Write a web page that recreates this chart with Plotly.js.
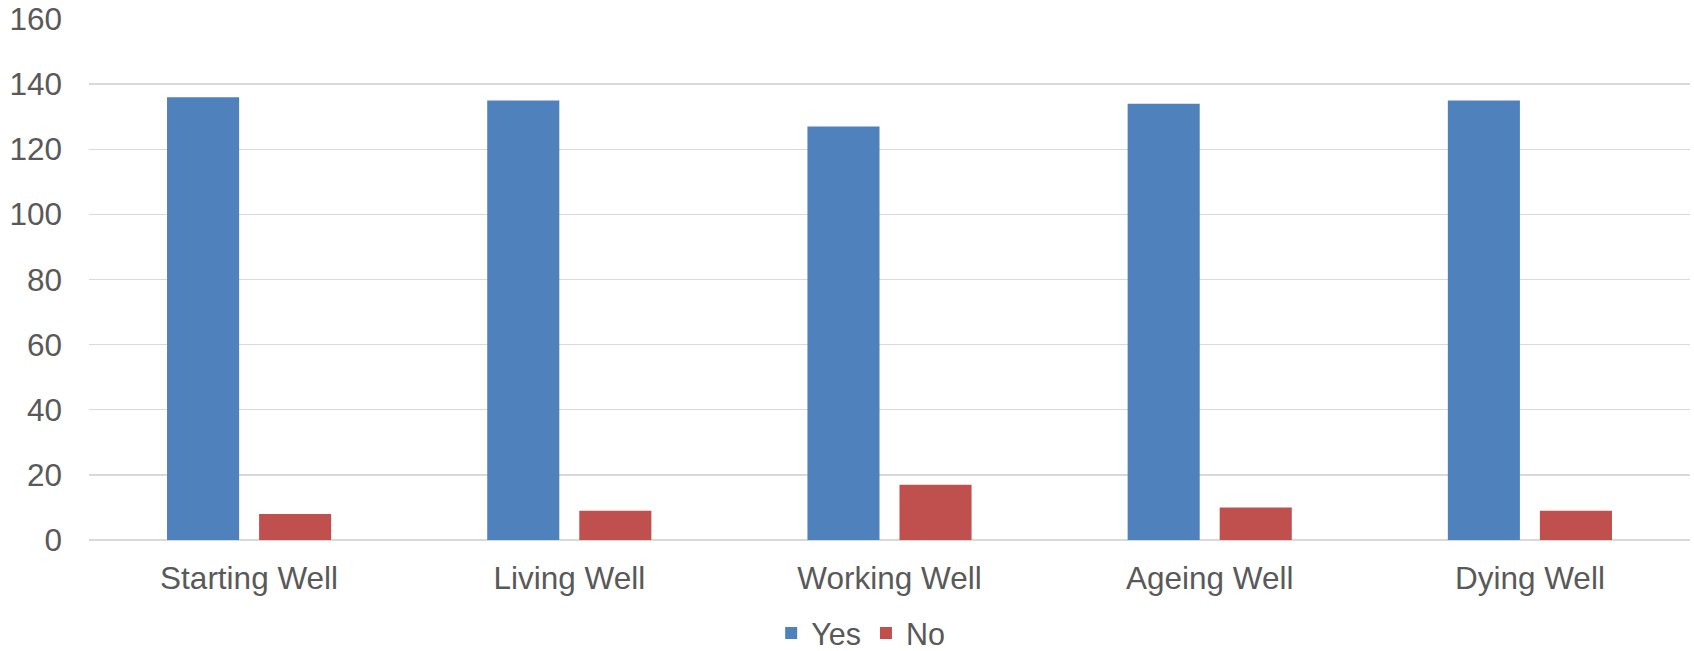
<!DOCTYPE html>
<html>
<head>
<meta charset="utf-8">
<script src="https://cdn.plot.ly/plotly-3.0.1.min.js"></script>
<style>
  html, body { margin: 0; padding: 0; background: #ffffff; }
  #chart { width: 1694px; height: 651px; }
</style>
</head>
<body>
<div id="chart"></div>
<script>
// Survey responses per theme
const categories = ["Starting Well", "Living Well", "Working Well", "Ageing Well", "Dying Well"];
const yesCounts = [136, 135, 127, 134, 135];
const noCounts = [8, 9, 17, 10, 9];
const yTicks = [0, 20, 40, 60, 80, 100, 120, 140, 160];

const fontFamily = '"Liberation Sans", Arial, sans-serif';
const textColor = '#595959';
const gridColor = '#d9d9d9';

const traces = [
  {
    type: 'bar',
    name: 'Yes',
    x: categories,
    y: yesCounts,
    marker: { color: '#4f81bd' },
    hoverinfo: 'x+y+name'
  },
  {
    type: 'bar',
    name: 'No',
    x: categories,
    y: noCounts,
    marker: { color: '#c0504d' },
    hoverinfo: 'x+y+name'
  }
];

const layout = {
  width: 1694,
  height: 651,
  margin: { l: 89, r: 4, t: 18.5, b: 111, pad: 0, autoexpand: false },
  paper_bgcolor: '#ffffff',
  plot_bgcolor: '#ffffff',
  font: { family: fontFamily, size: 31.5, color: textColor },
  barmode: 'group',
  bargap: 0.425,
  bargroupgap: 0.217,
  showlegend: true,
  legend: {
    orientation: 'h',
    x: 0.482,
    xanchor: 'center',
    y: -0.179,
    yanchor: 'middle',
    font: { family: fontFamily, size: 30.5, color: textColor },
    bgcolor: 'rgba(0,0,0,0)'
  },
  xaxis: {
    type: 'category',
    showgrid: false,
    showline: false,
    zeroline: false,
    ticks: '',
    ticklabelstandoff: 16,
    automargin: false,
    tickfont: { family: fontFamily, size: 31.5, color: textColor }
  },
  yaxis: {
    range: [0, 160],
    tickmode: 'array',
    tickvals: yTicks,
    ticktext: yTicks.map(String),
    showgrid: true,
    gridcolor: gridColor,
    gridwidth: 1.3,
    zeroline: true,
    zerolinecolor: gridColor,
    zerolinewidth: 1.3,
    showline: false,
    ticks: '',
    ticklabelstandoff: 26,
    automargin: false,
    tickfont: { family: fontFamily, size: 31.5, color: textColor }
  }
};

Plotly.newPlot('chart', traces, layout, { displayModeBar: false, staticPlot: true });
</script>
</body>
</html>
